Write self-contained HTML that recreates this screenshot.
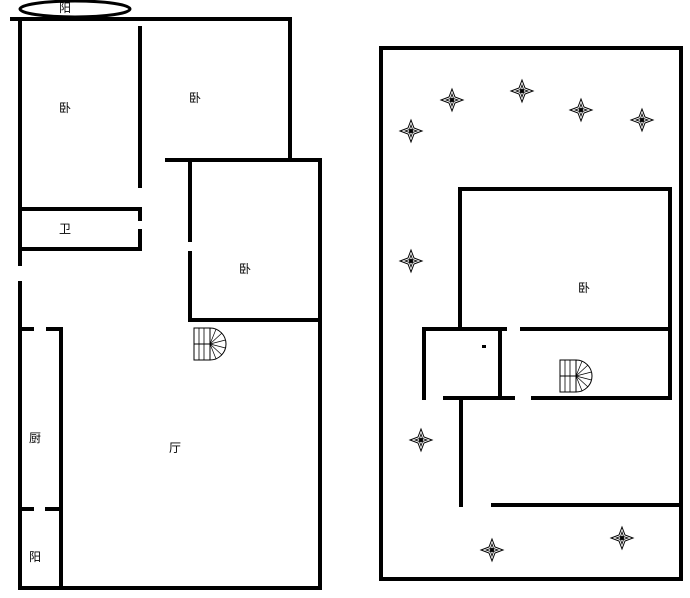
<!DOCTYPE html>
<html><head><meta charset="utf-8"><style>
html,body{margin:0;padding:0;background:#fff;}
svg{display:block;}
text{font-family:"Liberation Sans","Noto Sans CJK SC",sans-serif;font-size:12px;fill:#000;}
</style></head><body>
<svg width="690" height="598" viewBox="0 0 690 598" xmlns="http://www.w3.org/2000/svg">
<defs>
<g id="star">
<path d="M0,-11 L3,-3 L11,0 L3,3 L0,11 L-3,3 L-11,0 L-3,-3 Z" fill="#fff" stroke="#000" stroke-width="1"/>
<path d="M0,-6 L1.5,-1.5 L6,0 L1.5,1.5 L0,6 L-1.5,1.5 L-6,0 L-1.5,-1.5 Z" fill="none" stroke="#000" stroke-width="0.8"/>
<circle r="2" fill="#000"/>
</g>
<g id="stair">
<rect x="0" y="0" width="16" height="32" fill="#fff" stroke="#000" stroke-width="1"/>
<line x1="0" y1="16" x2="16" y2="16" stroke="#000"/>
<line x1="5" y1="0" x2="5" y2="32" stroke="#000" stroke-width="0.8"/>
<line x1="10" y1="0" x2="10" y2="32" stroke="#000" stroke-width="0.8"/>
<path d="M16,0 A16,16 0 0 1 16,32 Z" fill="#fff" stroke="#000"/>
<g stroke="#000" stroke-width="0.7">
<line x1="16" y1="16" x2="22" y2="1.2"/><line x1="16" y1="16" x2="28" y2="5"/><line x1="16" y1="16" x2="31.5" y2="12"/>
<line x1="16" y1="16" x2="31.5" y2="20"/><line x1="16" y1="16" x2="28" y2="27"/><line x1="16" y1="16" x2="22" y2="30.8"/>
</g>
</g>
</defs>
<g stroke="#000" stroke-width="4" fill="none" stroke-linecap="square">
<!-- left plan -->
<line x1="12" y1="19" x2="290" y2="19"/>
<line x1="290" y1="19" x2="290" y2="160"/>
<line x1="20" y1="19" x2="20" y2="264"/>
<line x1="20" y1="283" x2="20" y2="588"/>
<line x1="140" y1="28" x2="140" y2="186"/>
<line x1="140" y1="210" x2="140" y2="219"/>
<line x1="140" y1="231" x2="140" y2="249"/>
<line x1="167" y1="160" x2="320" y2="160"/>
<line x1="190" y1="162" x2="190" y2="240"/>
<line x1="190" y1="253" x2="190" y2="320"/>
<line x1="190" y1="320" x2="320" y2="320"/>
<line x1="320" y1="160" x2="320" y2="588"/>
<line x1="20" y1="209" x2="140" y2="209"/>
<line x1="20" y1="249" x2="140" y2="249"/>
<line x1="20" y1="329" x2="32" y2="329"/>
<line x1="48" y1="329" x2="61" y2="329"/>
<line x1="61" y1="329" x2="61" y2="588"/>
<line x1="20" y1="509" x2="32" y2="509"/>
<line x1="47" y1="509" x2="60" y2="509"/>
<line x1="20" y1="588" x2="320" y2="588"/>
<!-- right plan -->
<rect x="381" y="48" width="300" height="531"/>
<line x1="460" y1="189" x2="670" y2="189"/>
<line x1="460" y1="189" x2="460" y2="329"/>
<line x1="670" y1="189" x2="670" y2="398"/>
<line x1="424" y1="329" x2="505" y2="329"/>
<line x1="522" y1="329" x2="670" y2="329"/>
<line x1="424" y1="329" x2="424" y2="398"/>
<line x1="500" y1="329" x2="500" y2="398"/>
<line x1="445" y1="398" x2="513" y2="398"/>
<line x1="533" y1="398" x2="670" y2="398"/>
<line x1="461" y1="398" x2="461" y2="505"/>
<line x1="493" y1="505" x2="680" y2="505"/>
</g>
<ellipse cx="75" cy="9" rx="55" ry="8" fill="none" stroke="#000" stroke-width="3"/>
<rect x="482" y="345" width="4" height="3" fill="#000"/>
<use href="#stair" x="194" y="328"/>
<use href="#stair" x="560" y="360"/>
<use href="#star" x="411" y="131"/>
<use href="#star" x="452" y="100"/>
<use href="#star" x="522" y="91"/>
<use href="#star" x="581" y="110"/>
<use href="#star" x="642" y="120"/>
<use href="#star" x="411" y="261"/>
<use href="#star" x="421" y="440"/>
<use href="#star" x="492" y="550"/>
<use href="#star" x="622" y="538"/>
<g text-anchor="middle">
<text x="65" y="12">阳</text>
<text x="65" y="112">卧</text>
<text x="195" y="102">卧</text>
<text x="65" y="233">卫</text>
<text x="245" y="273">卧</text>
<text x="35" y="442">厨</text>
<text x="175" y="452">厅</text>
<text x="35" y="561">阳</text>
<text x="584" y="292">卧</text>
</g>
</svg>
</body></html>
